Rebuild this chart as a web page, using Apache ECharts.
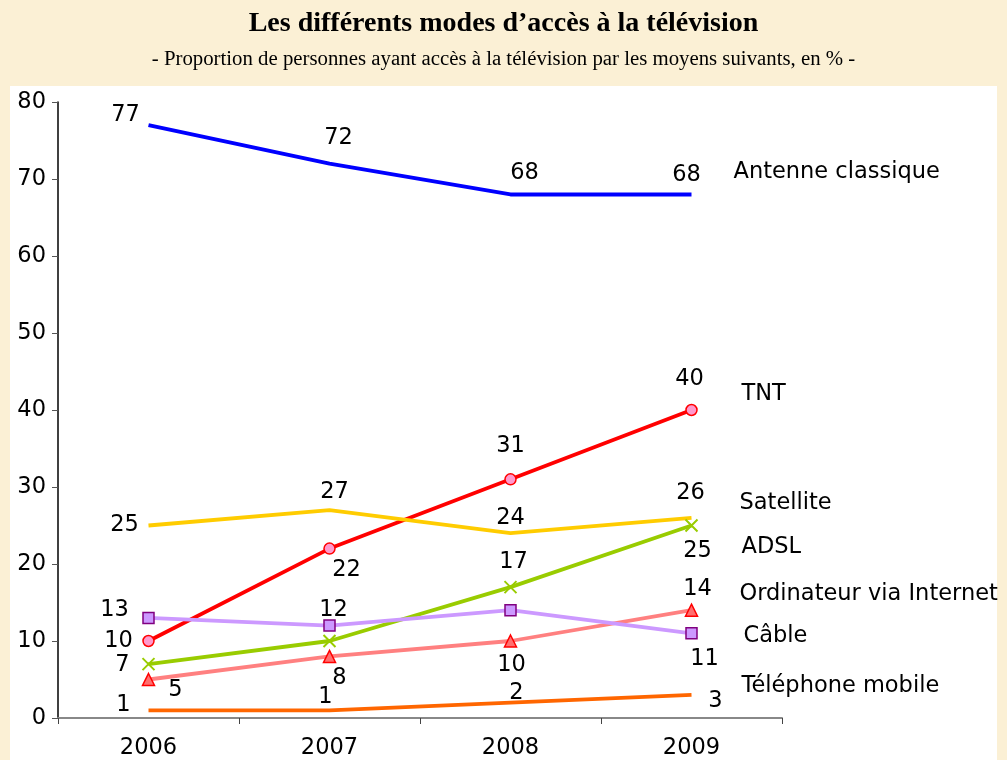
<!DOCTYPE html>
<html>
<head>
<meta charset="utf-8">
<script src="https://cdn.jsdelivr.net/npm/echarts@6/dist/echarts.min.js"></script>
<style>
  html, body { margin: 0; padding: 0; background: #fbf0d5; }
  #chart { width: 1007px; height: 760px; }
</style>
</head>
<body>
<div id="chart"></div>
<script>
var years = ['2006', '2007', '2008', '2009'];
var antenne = [77, 72, 68, 68];
var tnt = [10, 22, 31, 40];
var satellite = [25, 27, 24, 26];
var adsl = [7, 10, 17, 25];
var ordinateur = [5, 8, 10, 14];
var cable = [13, 12, 14, 11];
var telephone = [1, 1, 2, 3];

var font = 'DejaVu Sans';
var fsize = 22.5;

// label offsets from each point (null = no label)
function pts(values, offs) {
	var out = [];
	for (var i = 0; i < values.length; i++) {
		var o = offs[i];
		out.push({
			value: values[i],
			label: o ? { show: true, position: 'inside', offset: o } : { show: false }
		});
	}
	return out;
}

function serie(name, values, offs, color, width, sym, endOff) {
	var s = {
		name: name,
		type: 'line',
		data: pts(values, offs),
		lineStyle: { color: color, width: width },
		label: { color: '#000', fontSize: fsize, fontFamily: font },
		endLabel: {
			show: true, formatter: '{a}', color: '#000', fontSize: fsize, fontFamily: font,
			distance: 0, offset: endOff
		},
		emphasis: { disabled: true },
		z: 3
	};
	if (sym) {
		s.symbol = sym.symbol;
		s.symbolSize = sym.size;
		s.itemStyle = sym.style;
	} else {
		s.symbol = 'circle';
		s.symbolSize = 1;
		s.itemStyle = { color: 'transparent', borderWidth: 0 };
	}
	return s;
}

var myChart = echarts.init(document.getElementById('chart'));
var option = {
	animation: false,
	backgroundColor: '#fbf0d5',
	title: [{
		text: 'Les différents modes d\u2019accès à la télévision',
		left: 'center',
		top: 5,
		textStyle: { fontFamily: 'Liberation Serif', fontWeight: 'bold', fontSize: 28, color: '#000' }
	}, {
		text: '- Proportion de personnes ayant accès à la télévision par les moyens suivants, en % -',
		left: 'center',
		top: 44,
		textStyle: { fontFamily: 'Liberation Serif', fontWeight: 'normal', fontSize: 20.8, color: '#000' }
	}],
	graphic: [{
		type: 'rect',
		shape: { x: 10, y: 86, width: 987, height: 680 },
		style: { fill: '#fff' },
		z: -10
	}],
	grid: { left: 58, right: 225, top: 102, bottom: 41 },
	xAxis: {
		type: 'category',
		data: years,
		boundaryGap: true,
		axisLine: { lineStyle: { color: '#888', width: 2 } },
		axisTick: { show: true, length: 6, lineStyle: { color: '#444' } },
		axisLabel: { color: '#000', fontSize: fsize, fontFamily: font, margin: 19 },
		splitLine: { show: false }
	},
	yAxis: {
		type: 'value',
		min: 0,
		max: 80,
		interval: 10,
		axisLine: { show: true, lineStyle: { color: '#000', width: 1.5 } },
		axisTick: { show: true, length: 6, lineStyle: { color: '#555' } },
		axisLabel: { color: '#000', fontSize: fsize, fontFamily: font, margin: 12 },
		splitLine: { show: false }
	},
	series: [
		serie('Antenne classique', antenne, [[-23, -10], [9, -25], [14, -21], [-5, -19]], '#0000ff', 4, null, [42, -22]),
		serie('TNT', tnt, [[-30, 0], [17, 22], [0, -33], [-2, -31]], '#ff0000', 3.8,
			{ symbol: 'circle', size: 11, style: { color: '#ff99cc', borderColor: '#ff0000', borderWidth: 1.5 } }, [50, -16]),
		serie('Satellite', satellite, [[-24, 0], [5, -18], [0, -15], [-1, -25]], '#ffcc00', 3.8, null, [48, -15]),
		serie('ADSL', adsl, [[-26, 1], null, [3, -25], [6, 26]], '#99cc00', 3.8,
			{ symbol: 'path://M0,0L10,10M10,0L0,10', size: 12, style: { color: 'transparent', borderColor: '#99cc00', borderWidth: 2 } }, [50, 22]),
		serie('Ordinateur via Internet', ordinateur, [[27, 11], [10, 22], [1, 24], [6, -21]], '#ff8080', 3.8,
			{ symbol: 'triangle', size: 12, style: { color: '#ff6f6f', borderColor: '#ff0000', borderWidth: 1.5 } }, [48, -16]),
		serie('Câble', cable, [[-34, -8], [4, -15], null, [13, 26]], '#cc99ff', 3.8,
			{ symbol: 'rect', size: 11, style: { color: '#cc99ff', borderColor: '#800080', borderWidth: 1.5 } }, [52, 3]),
		serie('Téléphone mobile', telephone, [[-25, -5], [-4, -13], [6, -9], [24, 6]], '#ff6600', 3.8, null, [50, -9])
	]
};
myChart.setOption(option);
</script>
</body>
</html>
